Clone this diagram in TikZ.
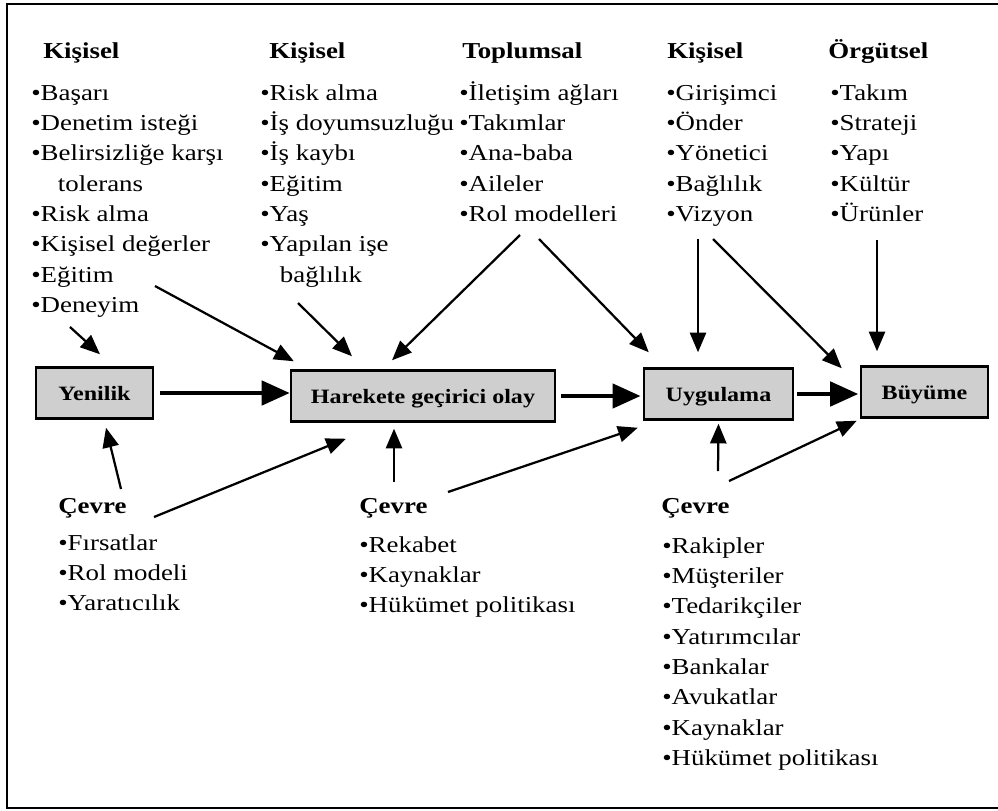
\documentclass[tikz,border=0pt]{standalone}
\usepackage{fontspec}
\setmainfont{Liberation Serif}[FakeStretch=1.18]
\usetikzlibrary{arrows.meta,calc}
\newcommand{\metin}{\fontsize{16.2}{21.6}\selectfont}
\newcommand{\kutuyazi}{\fontsize{14.5}{17}\selectfont\bfseries}
\newcommand{\maddeler}[1]{\begin{tabular}[t]{@{}l@{}}#1\end{tabular}}
\tikzstyle{kutu} = [rectangle,draw,line width=1.6pt,fill=gray!38,font=\kutuyazi,minimum height=1.28cm,inner sep=0pt,text height=12.5pt,text depth=1.2pt]

\begin{document}
\begin{tikzpicture}
		[
		x=0.025cm,y=-0.025cm,
		baslik/.style={anchor=base west,inner sep=0pt,font=\metin\bfseries},
		liste/.style={anchor=base west,inner sep=0pt,font=\metin},
		ok/.style={-{Triangle[length=14pt,width=11.5pt]},line width=1.6pt},
		kalin/.style={-{Triangle[length=20pt,width=17pt]},line width=3.5pt}
		]
		\useasboundingbox (0,0) rectangle (998,810);
		\draw[line width=1.5pt] (998,4) -- (7,4) -- (7,808) -- (998,808);

		% ana kutular
		\node[kutu,minimum width=2.93cm](yenilik) at (94.5,393) {Yenilik};
		\node[kutu,minimum width=6.6cm](harekete) at (423,396) {Harekete geçirici olay};
		\node[kutu,minimum width=3.73cm](uygulama) at (718.5,394) {Uygulama};
		\node[kutu,minimum width=3.18cm](buyume) at (924.5,392) {Büyüme};

		% ust gruplar
		\node[baslik](kis1) at (43,58) {Kişisel};
		\node[liste](kis1list) at (31,100) {\maddeler{•Başarı\\ •Denetim isteği\\ •Belirsizliğe karşı\\ \hspace*{19pt}tolerans\\ •Risk alma\\ •Kişisel değerler\\ •Eğitim\\ •Deneyim}};
		\node[baslik](kis2) at (269,58) {Kişisel};
		\node[liste](kis2list) at (260,100) {\maddeler{•Risk alma\\ •İş doyumsuzluğu\\ •İş kaybı\\ •Eğitim\\ •Yaş\\ •Yapılan işe\\ \hspace*{14pt}bağlılık}};
		\node[baslik](top) at (462,58) {Toplumsal};
		\node[liste](toplist) at (459,100) {\maddeler{•İletişim ağları\\ •Takımlar\\ •Ana-baba\\ •Aileler\\ •Rol modelleri}};
		\node[baslik](kis3) at (667,58) {Kişisel};
		\node[liste](kis3list) at (666,100) {\maddeler{•Girişimci\\ •Önder\\ •Yönetici\\ •Bağlılık\\ •Vizyon}};
		\node[baslik](org) at (828,58) {Örgütsel};
		\node[liste](orglist) at (830,100) {\maddeler{•Takım\\ •Strateji\\ •Yapı\\ •Kültür\\ •Ürünler}};

		% alt gruplar
		\node[baslik](cev1) at (58,513) {Çevre};
		\node[liste](cev1list) at (58,550) {\maddeler{•Fırsatlar\\ •Rol modeli\\ •Yaratıcılık}};
		\node[baslik](cev2) at (359,513) {Çevre};
		\node[liste](cev2list) at (359,552) {\maddeler{•Rekabet\\ •Kaynaklar\\ •Hükümet politikası}};
		\node[baslik](cev3) at (661,513) {Çevre};
		\node[liste](cev3list) at (662,553) {\maddeler{•Rakipler\\ •Müşteriler\\ •Tedarikçiler\\ •Yatırımcılar\\ •Bankalar\\ •Avukatlar\\ •Kaynaklar\\ •Hükümet politikası}};

		% ok baslangiclari
		\coordinate (kis1-a) at (70,327);
		\coordinate (kis1-b) at (155,286);
		\coordinate (kis2-a) at (298,303);
		\coordinate (top-a) at (520,235);
		\coordinate (top-b) at (539,239);
		\coordinate (kis3-a) at (698,239);
		\coordinate (kis3-b) at (713,239);
		\coordinate (org-a) at (877,240);
		\coordinate (cev1-a) at (121,489);
		\coordinate (cev1-b) at (154,517);
		\coordinate (cev2-a) at (394,482);
		\coordinate (cev2-b) at (448,492);
		\coordinate (cev3-a) at (718,471);
		\coordinate (cev3-b) at (729,481);

		\draw[ok] (kis1-a) -- ($(yenilik.north)+(5.5,-12)$);
		\draw[ok] (kis1-b) -- ($(harekete.north west)+(4,-8)$);
		\draw[ok] (kis2-a) -- ($(harekete.north)+(-71,-13)$);
		\draw[ok] (top-a) -- ($(harekete.north)+(-31,-9)$);
		\draw[ok] (top-b) -- ($(uygulama.north west)+(6,-15)$);
		\draw[ok] (kis3-a) -- ($(uygulama.north)+(-20.5,-15)$);
		\draw[ok] (kis3-b) -- ($(buyume.north west)+(-18,3)$);
		\draw[ok] (org-a) -- ($(buyume.north)+(-47.5,-14)$);
		\draw[ok] (cev1-a) -- ($(yenilik.south)+(11.5,8)$);
		\draw[ok] (cev1-b) -- ($(harekete.south west)+(56,16)$);
		\draw[ok] (cev2-a) -- ($(harekete.south)+(-29,6)$);
		\draw[ok] (cev2-b) -- ($(uygulama.south west)+(-5,7)$);
		\draw[ok] (cev3-a) -- ($(uygulama.south)+(0,3)$);
		\draw[ok] (cev3-b) -- ($(buyume.south west)+(-3,2)$);

		% ana akis
		\draw[kalin,shorten <=4pt] (yenilik.east) -- (yenilik.east -| harekete.west);
		\draw[kalin,shorten <=3.5pt,shorten >=1.5pt] (harekete.east) -- (harekete.east -| uygulama.west);
		\draw[kalin,shorten <=2pt,shorten >=1pt] (uygulama.east) -- (uygulama.east -| buyume.west);
\end{tikzpicture}
\end{document}
